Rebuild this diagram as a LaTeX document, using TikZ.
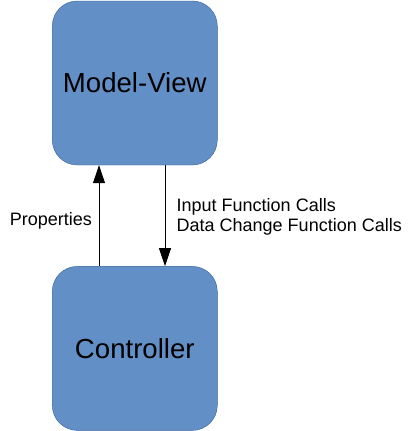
\documentclass[tikz,border=0pt]{standalone}
\usepackage{fontspec}
\setmainfont{Liberation Sans}
\usetikzlibrary{positioning,arrows.meta}
\definecolor{boxblue}{RGB}{98,143,198}
\definecolor{boxline}{RGB}{52,96,156}

\begin{document}
\begin{tikzpicture}[
    part/.style={draw=boxline, fill=boxblue, rounded corners=25pt, minimum width=165pt, minimum height=164pt, inner sep=0pt, font=\fontsize{27.6}{32}\selectfont},
    lbl/.style={font=\fontsize{18}{20}\selectfont, align=left, inner sep=0pt},
    link/.style={-{Triangle[width=12pt,length=18pt]}, line width=0.8pt}
  ]
                \useasboundingbox (0,0) rectangle (416pt,-431pt);
                \node[part] at (134.8pt,-83pt) (mv) {Model-View};
                \node[part, below=101pt of mv] (ctrl) {Controller};
                \draw[link] ([xshift=-35.8pt]ctrl.north) -- ([xshift=-35.8pt]mv.south);
                \draw[link] ([xshift=30.2pt]mv.south) -- ([xshift=30.2pt]ctrl.north);
                \node[lbl, anchor=base east] at (92pt,-225pt) (props) {Properties};
                \node[lbl, anchor=west] at (176.5pt,-216.7pt) (calls) {Input Function Calls\\Data Change Function Calls};
            \end{tikzpicture}
\end{document}
